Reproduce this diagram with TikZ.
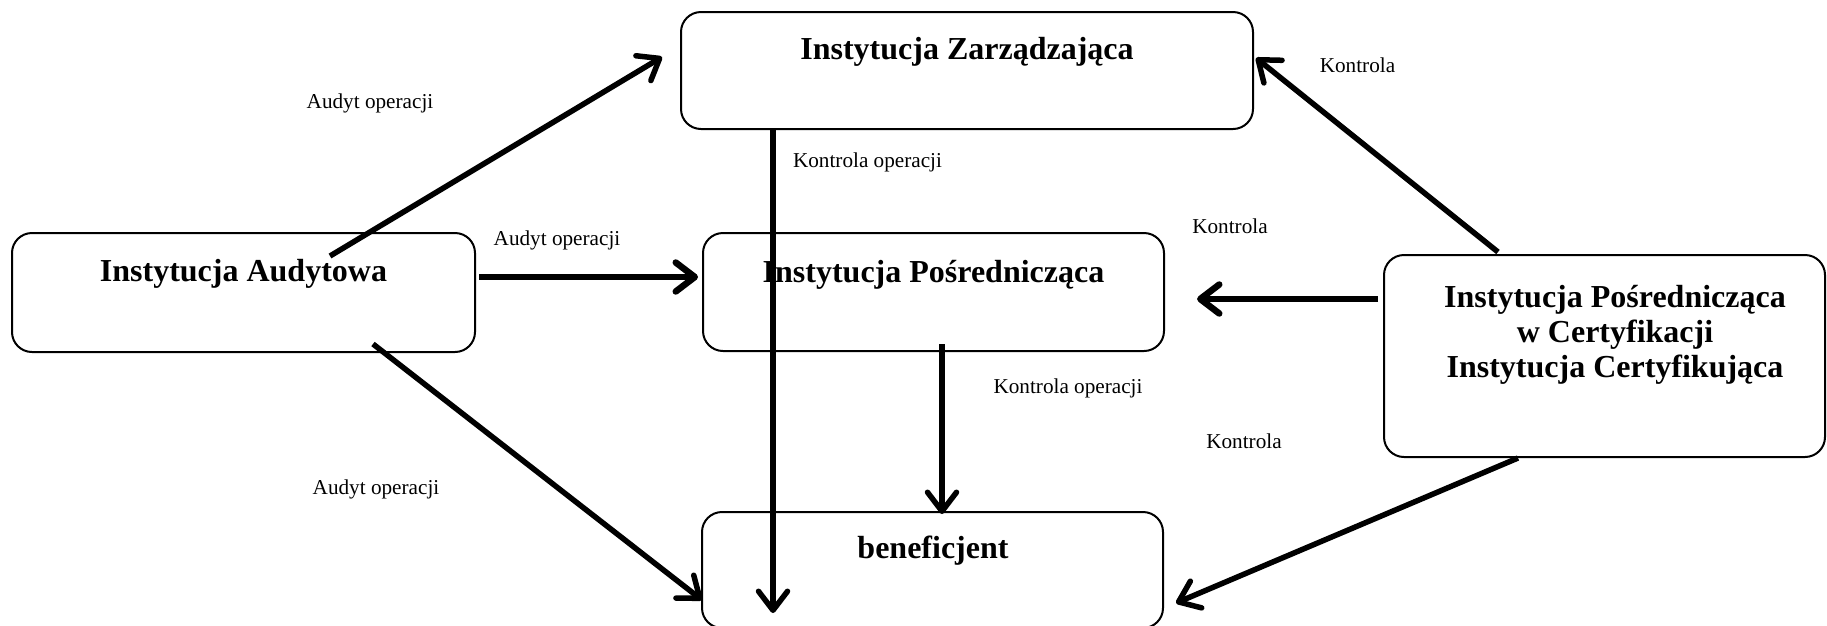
\documentclass[tikz,border=0pt]{standalone}
\usepackage{fontspec}
\setmainfont{Liberation Serif}
\usetikzlibrary{arrows.meta,calc}

\begin{document}
\begin{tikzpicture}[x=1pt,y=-1pt,
  box/.style={draw, line width=2pt, rounded corners=20pt, inner sep=0pt},
  title/.style={font=\fontsize{32}{35}\selectfont\bfseries, inner sep=0pt, anchor=base},
  lbl/.style={font=\fontsize{21.2}{24}\selectfont, inner sep=0pt, anchor=base},
  flow/.style={line width=5.5pt, -{Straight Barb[round, length=19pt, width=29pt]}},
  bold flow/.style={flow, line width=6.5pt}]
  \useasboundingbox (0,0) rectangle (1827,625);

  % institution boxes
  \node[box, minimum width=572pt, minimum height=117pt] (iz)  at (967,70.5) {};
  \node[box, minimum width=463pt, minimum height=119pt] (ia)  at (243.5,292.5) {};
  \node[box, minimum width=461pt, minimum height=118pt] (ip)  at (933.5,292) {};
  \node[box, minimum width=441pt, minimum height=202pt] (ipc) at (1604.5,356) {};
  \node[box, minimum width=461pt, minimum height=116pt] (ben) at (932.5,570) {};

  % box titles
  \node[title] (tiz) at (967,59) {Instytucja Zarządzająca};
  \node[title] (tia) at (243.5,281) {Instytucja Audytowa};
  \node[title] (tip) at (933.5,282) {Instytucja Pośrednicząca};
  \node[title, anchor=center, align=center] (tipc) at (1615,334.5)
    {Instytucja Pośrednicząca\\w Certyfikacji\\Instytucja Certyfikująca};
  \node[title] (tben) at (933,558) {beneficjent};

  % audit and control flows
  \draw[flow] ($(ia.north)+(86.5,24)$) -- ($(iz.west)+(-18,-13.5)$);
  \draw[bold flow] ($(ia.east)+(3,-15.5)$) -- ($(ip.west)+(-4,-15)$);
  \draw[flow] ($(ia.south)+(129.5,-9)$) -- ($(ben.west)+(1,30)$);
  \draw[flow] ($(iz.south)+(-194,0)$) -- ($(ben.south)+(-159.5,-16)$);
  \draw[flow] ($(ip.south)+(8.5,-8)$) -- ($(ben.north)+(9.5,3)$);
  \draw[flow] ($(ipc.north)+(-106.5,-2)$) -- ($(iz.east)+(2,-12.5)$);
  \draw[bold flow] ($(ipc.west)+(-5,-57)$) -- ($(ip.east)+(32,7)$);
  \draw[flow] ($(ipc.south)+(-86.5,0)$) -- ($(ben.east)+(12,33)$);

  % flow labels
  \node[lbl] (l1) at (370,108) {Audyt operacji};
  \node[lbl] (l2) at (867.5,167) {Kontrola operacji};
  \node[lbl] (l3) at (1357.5,72) {Kontrola};
  \node[lbl] (l4) at (557,245) {Audyt operacji};
  \node[lbl] (l5) at (1230,233) {Kontrola};
  \node[lbl] (l6) at (1068,393) {Kontrola operacji};
  \node[lbl] (l7) at (1244,448) {Kontrola};
  \node[lbl] (l8) at (376,494) {Audyt operacji};
\end{tikzpicture}
\end{document}
